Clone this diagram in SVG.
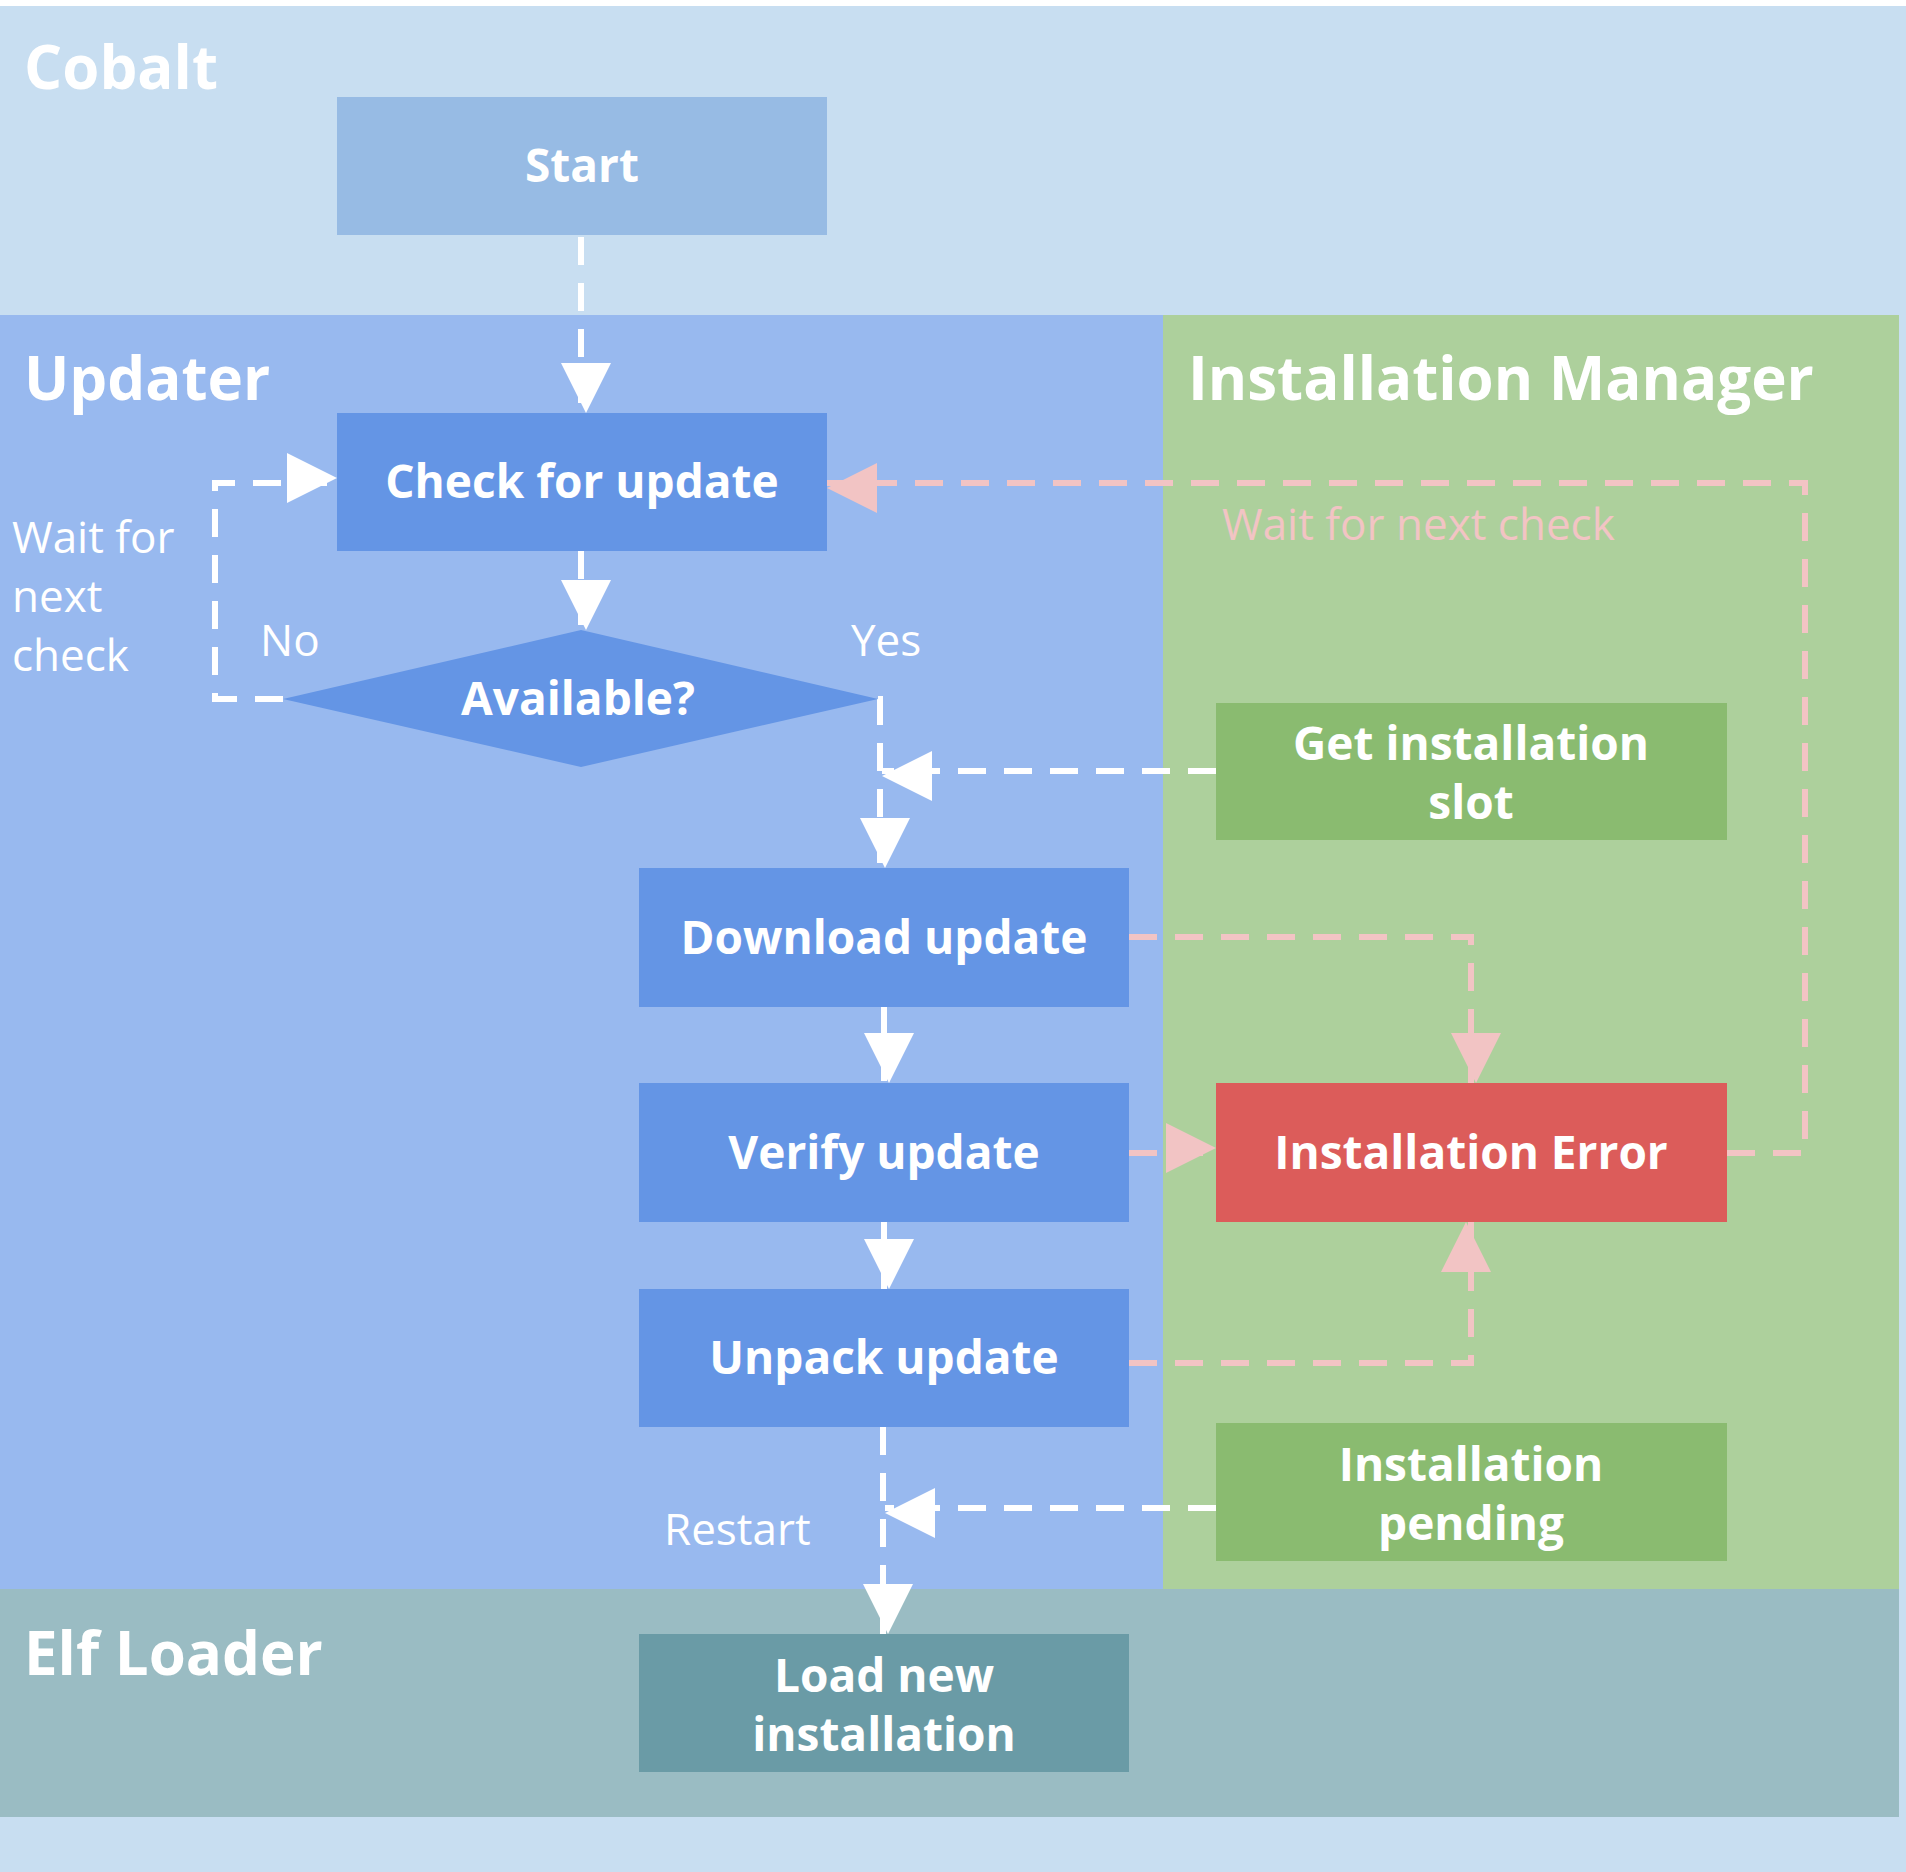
<svg xmlns="http://www.w3.org/2000/svg" width="1906" height="1872" viewBox="0 0 1906 1872">
<defs>
<style>
.t{font-family:"Open Sans","Liberation Sans",sans-serif;font-weight:bold;fill:#fff;text-anchor:middle;font-size:46px}
.h{font-family:"Open Sans","Liberation Sans",sans-serif;font-weight:bold;fill:#fff;font-size:60px}
.l{font-family:"Open Sans","Liberation Sans",sans-serif;fill:#fff;font-size:44px}
.w{fill:none;stroke:#fff;stroke-width:6;stroke-dasharray:28 18}
.p{fill:none;stroke:#f2c4c4;stroke-width:6;stroke-dasharray:28 18}
</style>
<marker id="aw" markerWidth="10" markerHeight="10" refX="10" refY="5" orient="auto" markerUnits="userSpaceOnUse" viewBox="0 0 10 10" style="overflow:visible"><path d="M0,0L10,5L0,10z" fill="#fff" transform="scale(5)translate(-8,-5)"/></marker>
<marker id="ap" markerWidth="10" markerHeight="10" refX="10" refY="5" orient="auto" markerUnits="userSpaceOnUse" viewBox="0 0 10 10" style="overflow:visible"><path d="M0,0L10,5L0,10z" fill="#f2c4c4" transform="scale(5)translate(-8,-5)"/></marker>
</defs>
<rect width="1906" height="1872" fill="#fff"/>
<rect x="0" y="6" width="1906" height="1866" fill="#c8def1"/>
<rect x="0" y="315" width="1163" height="1274" fill="#98b9ef"/>
<rect x="1163" y="315" width="736" height="1274" fill="#add09c"/>
<rect x="0" y="1589" width="1899" height="228" fill="#9abcc3"/>
<text class="h" x="24" y="89">Cobalt</text>
<text class="h" x="24" y="400">Updater</text>
<text class="h" x="1188" y="400">Installation Manager</text>
<text class="h" x="24" y="1675">Elf Loader</text>
<g id="connectors">
<path class="w" d="M581,237V413" marker-end="url(#aw)"/>
<path class="w" d="M581,551V630" marker-end="url(#aw)"/>
<path class="w" d="M283,699H215V483H337" marker-end="url(#aw)"/>
<path class="w" d="M878,699H880V868" marker-end="url(#aw)"/>
<path class="w" d="M1216,771H882" marker-end="url(#aw)"/>
<path class="w" d="M884,1007V1083" marker-end="url(#aw)"/>
<path class="w" d="M884,1222V1289" marker-end="url(#aw)"/>
<path class="w" d="M883,1427V1634" marker-end="url(#aw)"/>
<path class="w" d="M1216,1508H885" marker-end="url(#aw)"/>
<path class="p" d="M1129,937H1471V1083" marker-end="url(#ap)"/>
<path class="p" d="M1129,1153H1216" marker-end="url(#ap)"/>
<path class="p" d="M1129,1363H1471V1222" marker-end="url(#ap)"/>
<path class="p" d="M1727,1153H1805V483H827" marker-end="url(#ap)"/>
<text class="l" x="12" y="553">Wait for</text>
<text class="l" x="12" y="612">next</text>
<text class="l" x="12" y="671">check</text>
<text class="l" x="260" y="656">No</text>
<text class="l" x="851" y="656">Yes</text>
<text class="l" x="664" y="1545">Restart</text>
<text class="l" x="1222" y="540" style="fill:#f2c4c4">Wait for next check</text>
</g>
<g id="start"><rect x="337" y="97" width="490" height="138" fill="#97bbe4"/><text class="t" x="582" y="182">Start</text></g>
<g id="check"><rect x="337" y="413" width="490" height="138" fill="#6495e5"/><text class="t" x="582" y="498">Check for update</text></g>
<g id="available"><path d="M283,699L581,630L878,699L581,767z" fill="#6495e5"/><text class="t" x="578" y="715">Available?</text></g>
<g id="download"><rect x="639" y="868" width="490" height="139" fill="#6495e5"/><text class="t" x="884" y="954">Download update</text></g>
<g id="verify"><rect x="639" y="1083" width="490" height="139" fill="#6495e5"/><text class="t" x="884" y="1169">Verify update</text></g>
<g id="unpack"><rect x="639" y="1289" width="490" height="138" fill="#6495e5"/><text class="t" x="884" y="1374">Unpack update</text></g>
<g id="load"><rect x="639" y="1634" width="490" height="138" fill="#6a9ba6"/><text class="t" x="884" y="1692">Load new</text><text class="t" x="884" y="1751">installation</text></g>
<g id="slot"><rect x="1216" y="703" width="511" height="137" fill="#8abb70"/><text class="t" x="1471" y="760">Get installation</text><text class="t" x="1471" y="819">slot</text></g>
<g id="error"><rect x="1216" y="1083" width="511" height="139" fill="#dc5c5a"/><text class="t" x="1471" y="1169">Installation Error</text></g>
<g id="pending"><rect x="1216" y="1423" width="511" height="138" fill="#8abb70"/><text class="t" x="1471" y="1481">Installation</text><text class="t" x="1471" y="1540">pending</text></g>
</svg>
